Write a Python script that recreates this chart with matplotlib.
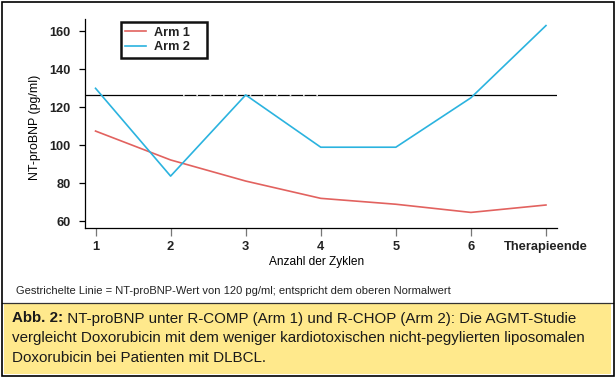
import matplotlib
matplotlib.use("Agg")
import matplotlib.pyplot as plt
from matplotlib.patches import Rectangle

# data
cycles = [1, 2, 3, 4, 5, 6, 7]
tick_labels = ["1", "2", "3", "4", "5", "6", "Therapieende"]
arm1 = [107.5, 92.3, 81.2, 72.1, 69.0, 64.7, 68.6]
arm2 = [130.0, 83.8, 126.5, 99.0, 99.0, 125.0, 163.0]
ref_level = 126.7   # line drawn for the 120 pg/ml normal value
yticks = [60, 80, 100, 120, 140, 160]

W, H = 615, 377
red = "#e2625f"
blue = "#2bb3df"
narrow = ["Liberation Sans Narrow", "Liberation Sans", "DejaVu Sans"]
plt.rcParams["font.family"] = ["Liberation Sans", "DejaVu Sans"]

fig = plt.figure(figsize=(W / 100, H / 100), dpi=100)

def fx(x):
    return x / W

def fy(y):
    return 1 - y / H

def fit(t, width, vertical=False):
    r = fig.canvas.get_renderer()
    bb = t.get_window_extent(r)
    size = bb.height if vertical else bb.width
    t.set_fontsize(t.get_fontsize() * width / size)
    return t.get_fontsize()

# outer frame and yellow caption box
fig.patches.append(Rectangle((fx(4), fy(374)), fx(607), 71 / H, transform=fig.transFigure,
                             facecolor="#ffe98c", edgecolor="none", zorder=0))
fig.lines.append(plt.Line2D([fx(2), fx(613)], [fy(302.7)] * 2, transform=fig.transFigure,
                            color="#333333", lw=0.9))
fig.patches.append(Rectangle((fx(1.5), fy(375.5)), fx(612), 374 / H, transform=fig.transFigure,
                             facecolor="none", edgecolor="black", lw=1.2, zorder=5))

ax = fig.add_axes([fx(84.5), fy(228), fx(557 - 84.5), (228 - 19.3) / H])
ax.patch.set_alpha(0)

ax.plot(cycles, arm1, color=red, lw=1.2, label="Arm 1")
ax.plot(cycles, arm2, color=blue, lw=1.2, label="Arm 2")
ax.axhline(ref_level, color="black", lw=0.9, zorder=1)
ax.hlines(ref_level, 2.17, 4.07, colors="white", lw=1.2, linestyles=(0, (1, 7)), zorder=1.5)

ax.set_xlim(0.853, 7.147)
ax.set_ylim(56.5, 166.3)
ax.set_xticks(cycles)
ax.set_xticklabels(tick_labels, fontweight="bold", fontsize=9.3, color="#222222")
ax.set_yticks(yticks)
ax.set_yticklabels([str(v) for v in yticks], fontweight="bold", fontsize=9.2, color="#222222")
ax.tick_params(axis="y", length=4, width=0.9, pad=6)
ax.tick_params(axis="x", length=5.5, width=0.9, pad=4, color="#777777")
for s in ["top", "right"]:
    ax.spines[s].set_visible(False)
for s in ["left", "bottom"]:
    ax.spines[s].set_linewidth(0.9)

xl = ax.set_xlabel("Anzahl der Zyklen", family=narrow, fontsize=10)
ax.xaxis.set_label_coords(fx(316.5), fy(265.3), transform=fig.transFigure)
xl.set_va("baseline")
fit(xl, 96)

yl = ax.set_ylabel("NT-proBNP (pg/ml)", family=narrow, fontsize=10)
ax.yaxis.set_label_coords(fx(35), fy(127.5), transform=fig.transFigure)
yl.set_va("center")
fit(yl, 105, vertical=True)

# legend: entries from the axes, box drawn as a plain frame
leg = ax.legend(loc="upper left", bbox_to_anchor=(fx(121), fy(22.5)), bbox_transform=fig.transFigure,
                frameon=False, prop={"weight": "bold", "size": 9.1},
                handlelength=1.65, handletextpad=0.65, labelspacing=0.2, borderpad=0.35,
                borderaxespad=0)
for txt in leg.get_texts():
    txt.set_color("#222222")
fig.patches.append(Rectangle((fx(121), fy(57.7)), fx(85.7), 36 / H, transform=fig.transFigure,
                             facecolor="none", edgecolor="#111111", lw=1.8, zorder=4))

note = fig.text(fx(15.7), fy(294.5), "Gestrichelte Linie = NT-proBNP-Wert von 120 pg/ml; "
                "entspricht dem oberen Normalwert", family=narrow, fontsize=8,
                va="baseline", color="#222222")
fit(note, 436)

# caption
l2 = fig.text(fx(11.8), fy(342), "vergleicht Doxorubicin mit dem weniger kardiotoxischen "
              "nicht-pegylierten liposomalen", family=narrow, fontsize=11, va="baseline",
              color="#1a1a1a")
cap_size = fit(l2, 571)
b1 = fig.text(fx(11.8), fy(322.5), "Abb. 2:", family=narrow, fontweight="bold",
              fontsize=cap_size, va="baseline", color="#1a1a1a")
bw = b1.get_window_extent(fig.canvas.get_renderer()).width
fig.text(fx(11.8 + bw), fy(322.5), " NT-proBNP unter R-COMP (Arm 1) und R-CHOP (Arm 2): "
         "Die AGMT-Studie", family=narrow, fontsize=cap_size, va="baseline", color="#1a1a1a")
fig.text(fx(11.8), fy(361.5), "Doxorubicin bei Patienten mit DLBCL.", family=narrow,
         fontsize=cap_size, va="baseline", color="#1a1a1a")

fig.savefig("out.png", dpi=100)
